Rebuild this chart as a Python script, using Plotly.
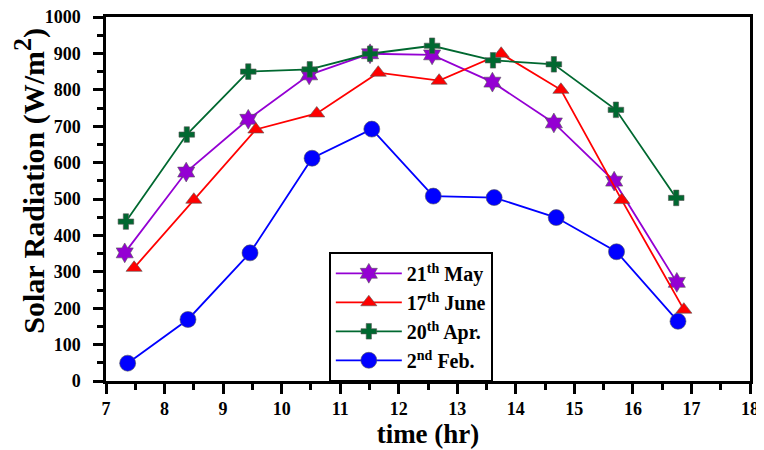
import plotly.graph_objects as go

# Data
may_x = [7.32, 8.37, 9.43, 10.47, 11.51, 12.57, 13.6, 14.65, 15.68, 16.75]
may_y = [352, 574, 719, 841, 899, 896, 821, 709, 549, 271]

june_x = [7.48, 8.5, 9.56, 10.6, 11.65, 12.69, 13.75, 14.77, 15.81, 16.87]
june_y = [311, 498, 691, 735, 847, 825, 899, 800, 497, 196]

apr_x = [7.34, 8.38, 9.43, 10.48, 11.51, 12.57, 13.61, 14.65, 15.71, 16.74]
apr_y = [438, 677, 850, 856, 899, 921, 881, 870, 745, 503]

feb_x = [7.37, 8.4, 9.46, 10.52, 11.54, 12.59, 13.63, 14.69, 15.72, 16.77]
feb_y = [49, 169, 352, 612, 692, 508, 504, 449, 355, 164]

names = ["21<sup>th</sup> May", "17<sup>th</sup> June", "20<sup>th</sup> Apr.", "2<sup>nd</sup> Feb."]
x_ticks = list(range(7, 19))
y_ticks = list(range(0, 1001, 100))
x_title = "time (hr)"
y_title = "Solar Radiation (W/m<sup><span style=\"font-size:26px\">2</span></sup>)"

FONT = "Liberation Serif"
fig = go.Figure()

series = [
    (may_x, may_y, names[0], "#9400D3", "hexagram", 15),
    (june_x, june_y, names[1], "#FF0000", "triangle-up", 14),
    (apr_x, apr_y, names[2], "#006830", "cross", 13),
    (feb_x, feb_y, names[3], "#0000FF", "circle", 16),
]
for xs, ys, nm, col, sym, sz in series:
    marker = dict(symbol=sym, size=sz, color=col, line=dict(color="#555555", width=0.6))
    fig.add_trace(go.Scatter(x=xs, y=ys, name=nm, mode="lines+markers",
                             line=dict(color=col, width=1.8), marker=marker))

axis_common = dict(
    showline=True, linecolor="black", linewidth=2.5, mirror=True,
    ticks="outside", ticklen=10, tickwidth=2.5, tickcolor="black",
    showgrid=False, zeroline=False, automargin=False, ticklabeloverflow="allow",
    tickfont=dict(family=FONT, size=18, color="black", weight="bold"),
)

fig.update_xaxes(range=[7, 18], tickvals=x_ticks, ticktext=[str(v) for v in x_ticks],
                 minor=dict(ticks="outside", ticklen=6, tickwidth=2.5, tickcolor="black", dtick=0.5),
                 title=dict(text=x_title, font=dict(family=FONT, size=27, color="black", weight="bold"), standoff=2),
                 **axis_common)
fig.update_yaxes(range=[0, 1000], tickvals=y_ticks, ticktext=[str(v) for v in y_ticks],
                 minor=dict(ticks="outside", ticklen=6, tickwidth=2.5, tickcolor="black", dtick=50),
                 ticklabelstandoff=9,
                 **axis_common)

# y-axis title placed as a rotated annotation (the reference centres it above the axis middle)
fig.add_annotation(text=y_title, xref="paper", yref="paper", x=-0.118, y=0.55,
                   xanchor="center", yanchor="middle", textangle=-90, showarrow=False,
                   font=dict(family=FONT, size=30, color="black", weight="bold"))

# Page body has an 8px default margin, so the figure is offset by 8px
fig.update_layout(
    template="none",
    width=756, height=442,
    margin=dict(l=98, r=14, t=9, b=69),
    plot_bgcolor="white", paper_bgcolor="white",
    legend=dict(x=0.346, y=0.355, xanchor="left", yanchor="top",
                bordercolor="black", borderwidth=2, bgcolor="white",
                font=dict(family=FONT, size=20, color="black", weight="bold"),
                itemwidth=66, tracegroupgap=0),
    showlegend=True,
)

fig.write_html("out.html")
